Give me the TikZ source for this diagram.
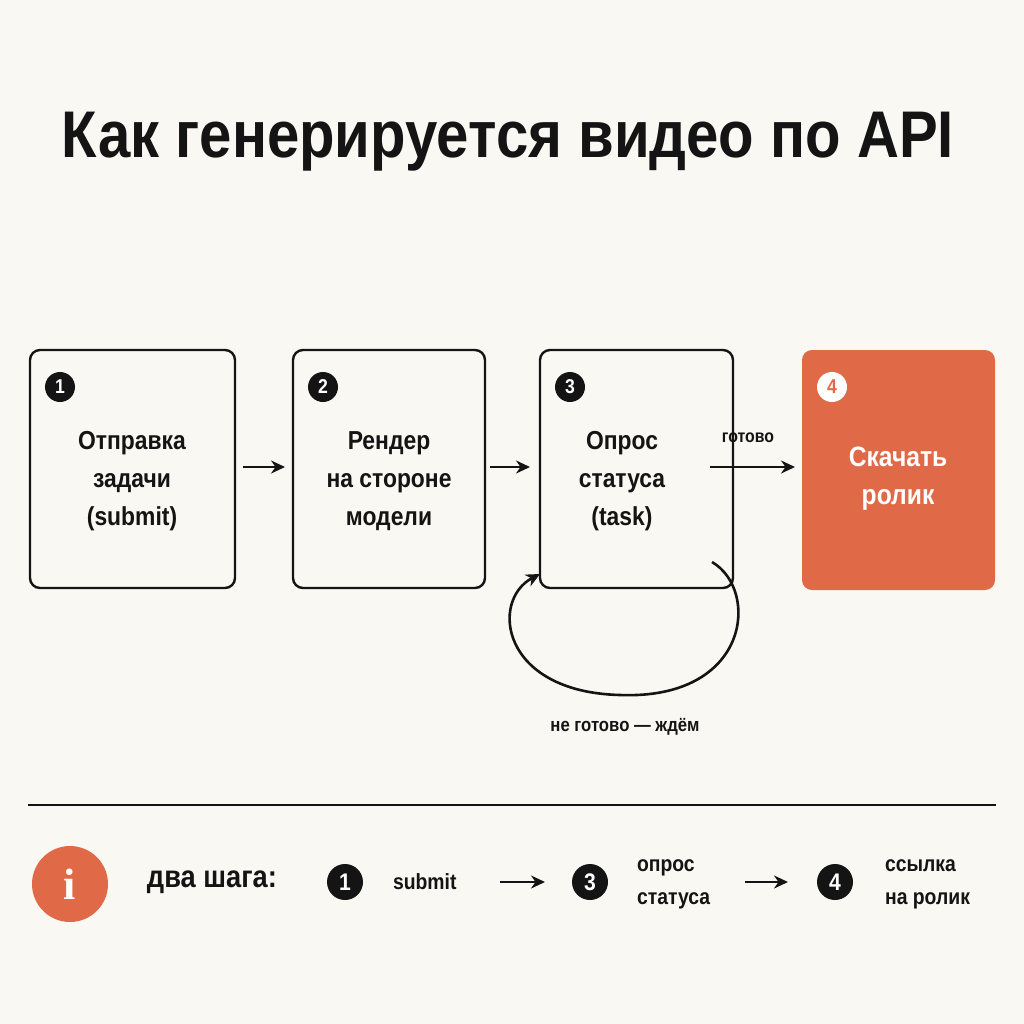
\documentclass[tikz,border=0pt]{standalone}
\usepackage{fontspec}
\setmainfont{Liberation Sans}[FakeStretch=0.88]
\newfontfamily\serifi{Liberation Serif}
\usetikzlibrary{arrows.meta}
\definecolor{bg}{HTML}{FAF8F3}
\definecolor{org}{HTML}{E06A48}
\definecolor{ink}{HTML}{141414}
\begin{document}
\begin{tikzpicture}[x=0.5pt,y=-0.5pt,
  box/.style={draw=ink,line width=1.2pt,rounded corners=5pt,inner sep=0pt},
  txt/.style={font=\bfseries\fontsize{13}{19}\selectfont,text=ink,align=center},
  num/.style={circle,fill=ink,text=white,inner sep=0pt,minimum size=15pt,font=\bfseries\fontsize{10}{10}\selectfont},
  arr/.style={-{Stealth[length=7pt,width=6.5pt]},line width=1.3pt,draw=ink}]
\fill[bg] (0,0) rectangle (1024,1024);
\node[text=ink,font=\bfseries\fontsize{33}{34}\selectfont] (title) at (508,142) {Как генерируется видео по API};
% boxes
\draw[box] (30,350) rectangle (235,588);
\draw[box] (293,350) rectangle (485,588);
\draw[box] (540,350) rectangle (733,588);
\fill[org,rounded corners=5pt] (802,350) rectangle (995,590);
\node[num] (n1) at (60,387) {1};
\node[num] (n2) at (323,387) {2};
\node[num] (n3) at (570,387) {3};
\node[num,fill=white,text=org] (n4) at (832,387) {4};
\node[txt] (t1) at (132,481) {Отправка\\задачи\\(submit)};
\node[txt] (t2) at (389,481) {Рендер\\на стороне\\модели};
\node[txt] (t3) at (622,481) {Опрос\\статуса\\(task)};
\node[txt,text=white,font=\bfseries\fontsize{14}{19}\selectfont] (t4) at (898,479) {Скачать\\ролик};
\draw[arr] (243,467) -- (285,467);
\draw[arr] (490,467) -- (530,467);
\draw[arr] (710,467) -- (795,467);
\node[txt,font=\bfseries\fontsize{9}{10}\selectfont] (gl) at (748,438) {готово};
\coordinate (ls) at (712,562);
\coordinate (le) at (540,574);
\draw[arr] (ls) .. controls (760,590) and (750,700) .. (620,695)
  .. controls (500,692) and (490,600) .. (le);
\node[txt,font=\bfseries\fontsize{9.5}{11}\selectfont] (ngl) at (625,727) {не готово — ждём};
\draw[ink,line width=1pt] (28,805) -- (996,805);
% bottom
\node[circle,fill=org,minimum size=38pt,inner sep=0pt,text=white,font=\serifi\bfseries\fontsize{22}{22}\selectfont] (info) at (70,884) {i};
\node[txt,font=\bfseries\fontsize{15.5}{16}\selectfont] (dv) at (212,882) {два шага:};
\node[num,minimum size=18pt,font=\bfseries\fontsize{12}{12}\selectfont] (c1) at (345,882) {1};
\node[txt,font=\bfseries\fontsize{11}{13}\selectfont,anchor=west] (s1) at (386,882) {submit};
\draw[arr] (500,882) -- (545,882);
\node[num,minimum size=18pt,font=\bfseries\fontsize{12}{12}\selectfont] (c3) at (590,882) {3};
\node[txt,font=\bfseries\fontsize{11}{16.5}\selectfont,align=left,anchor=west] (s3) at (630,884) {опрос\\статуса};
\draw[arr] (745,882) -- (788,882);
\node[num,minimum size=18pt,font=\bfseries\fontsize{12}{12}\selectfont] (c4) at (835,882) {4};
\node[txt,font=\bfseries\fontsize{11}{16.5}\selectfont,align=left,anchor=west] (s4) at (878,884) {ссылка\\на ролик};
\end{tikzpicture}
\end{document}
